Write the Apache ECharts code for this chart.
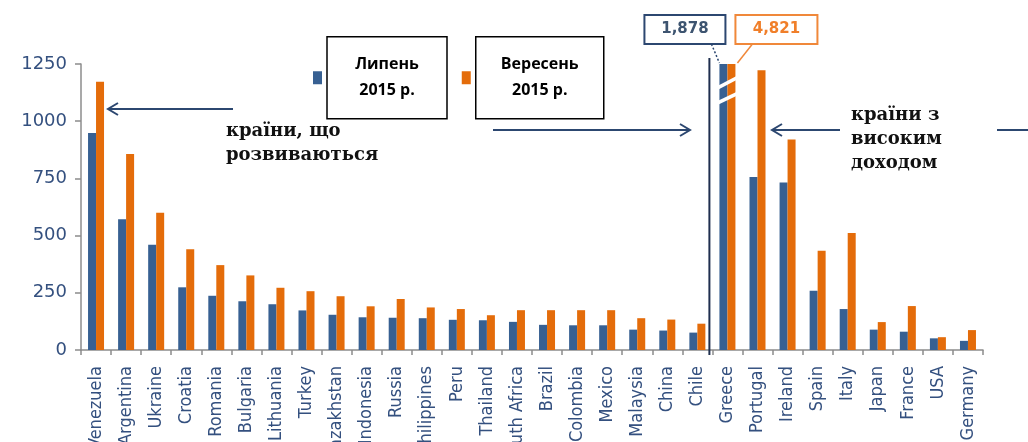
<!DOCTYPE html>
<html>
<head>
<meta charset="utf-8">
<script src="https://cdn.jsdelivr.net/npm/echarts@6/dist/echarts.min.js"></script>
<style>
  html, body { margin: 0; padding: 0; background: #fff; }
  #chart { width: 1028px; height: 442px; }
</style>
</head>
<body>
<div id="chart"></div>
<script>
const categories = [
  'Venezuela', 'Argentina', 'Ukraine', 'Croatia', 'Romania', 'Bulgaria', 'Lithuania',
  'Turkey', 'Kazakhstan', 'Indonesia', 'Russia', 'Philippines', 'Peru', 'Thailand',
  'South Africa', 'Brazil', 'Colombia', 'Mexico', 'Malaysia', 'China', 'Chile',
  'Greece', 'Portugal', 'Ireland', 'Spain', 'Italy', 'Japan', 'France', 'USA', 'Germany',
];
const july2015 = [
  948, 572, 460, 274, 237, 213, 200, 173, 154, 143, 141, 139, 132, 130,
  123, 110, 108, 108, 89, 85, 76,
  1878, 756, 732, 259, 179, 89, 80, 51, 40,
];
const sept2015 = [
  1172, 857, 600, 440, 371, 326, 272, 257, 235, 191, 223, 186, 179, 152,
  174, 174, 174, 174, 139, 133, 115,
  4821, 1223, 920, 434, 511, 122, 192, 56, 87,
];
const seriesNames = ['Липень\n2015 р.', 'Вересень\n2015 р.'];
const yTicks = { min: 0, max: 1250, interval: 250 };

const BLUE = '#376092';
const ORANGE = '#e46c0a';
const NAVY = '#2c4770';
const AXIS_GREY = '#8c8c8c';
const LABEL_BLUE = '#34507f';

const chart = echarts.init(document.getElementById('chart'));

const legendFont = { fontFamily: 'Open Sans', fontWeight: 'bold', fontSize: 16, color: '#000', lineHeight: 26, align: 'center' };

chart.setOption({
  animation: false,
  grid: { left: 81, right: 45, top: 64, bottom: 92, containLabel: false, outerBoundsMode: 'none' },
  legend: {
    left: 313,
    top: 36,
    padding: 0,
    itemWidth: 9,
    itemHeight: 13,
    itemGap: 14,
    icon: 'rect',
    selectedMode: false,
    data: seriesNames,
    formatter: (name) => name.split('\n').map((s) => `{${name === seriesNames[0] ? 'a' : 'b'}|${s}}`).join('\n'),
    textStyle: {
      ...legendFont,
      borderColor: '#000',
      borderWidth: 1.5,
      padding: [15, 0, 15, 0],
      rich: {
        a: { ...legendFont, width: 120 },
        b: { ...legendFont, width: 128 },
      },
    },
  },
  xAxis: {
    type: 'category',
    data: categories,
    axisLine: { lineStyle: { color: AXIS_GREY, width: 1.5 } },
    axisTick: { show: true, length: 5, lineStyle: { color: AXIS_GREY, width: 1.5 } },
    axisLabel: {
      interval: 0,
      rotate: 90,
      margin: 16,
      color: LABEL_BLUE,
      fontSize: 18,
      fontFamily: "'Liberation Sans Narrow', 'DejaVu Sans Condensed', sans-serif",
    },
  },
  yAxis: {
    type: 'value',
    min: yTicks.min,
    max: yTicks.max,
    interval: yTicks.interval,
    splitLine: { show: false },
    axisLine: { show: true, lineStyle: { color: AXIS_GREY, width: 1.5 } },
    axisTick: { show: true, length: 6, lineStyle: { color: AXIS_GREY, width: 1.5 } },
    axisLabel: {
      margin: 14,
      color: LABEL_BLUE,
      fontSize: 18,
      fontFamily: 'DejaVu Sans',
      formatter: (v) => String(v),
    },
  },
  series: [
    {
      name: seriesNames[0],
      type: 'bar',
      data: july2015,
      barWidth: 8,
      barGap: '0%',
      clip: true,
      itemStyle: { color: BLUE },
    },
    {
      name: seriesNames[1],
      type: 'bar',
      data: sept2015,
      barWidth: 8,
      barGap: '0%',
      clip: true,
      itemStyle: { color: ORANGE },
    },
  ],
});

// annotations: break marks on Greece, value boxes, divider and arrows
const gi = categories.indexOf('Greece');
const gx = chart.convertToPixel({ xAxisIndex: 0 }, categories[gi]);
const prevX = chart.convertToPixel({ xAxisIndex: 0 }, categories[gi - 1]);
const topY = chart.convertToPixel({ yAxisIndex: 0 }, yTicks.max);
const zeroY = chart.convertToPixel({ yAxisIndex: 0 }, 0);
const divX = (gx + prevX) / 2 - 3;
const fmt = (v) => v.toLocaleString('en-US');

function arrow(x1, y, x2) {
  const d = x2 > x1 ? -1 : 1;
  return [
    { type: 'line', shape: { x1, y1: y, x2, y2: y }, style: { stroke: NAVY, lineWidth: 2 } },
    {
      type: 'polyline',
      shape: { points: [[x2 + d * 10, y - 6], [x2, y], [x2 + d * 10, y + 6]] },
      style: { stroke: NAVY, lineWidth: 2, fill: null },
    },
  ];
}

const boldSerif = {
  fontFamily: 'DejaVu Serif',
  fontWeight: 'bold',
  fontSize: 18,
  lineHeight: 24,
  fill: '#111',
};

chart.setOption({
  graphic: [
    // break stripes across the Greece bars
    {
      type: 'polygon',
      shape: { points: [[gx - 10, topY + 22], [gx + 11, topY + 11], [gx + 11, topY + 15], [gx - 10, topY + 26]] },
      style: { fill: '#fff' },
      z: 100,
    },
    {
      type: 'polygon',
      shape: { points: [[gx - 10, topY + 37], [gx + 11, topY + 27], [gx + 11, topY + 31], [gx - 10, topY + 41]] },
      style: { fill: '#fff' },
      z: 100,
    },
    // divider between groups
    {
      type: 'line',
      shape: { x1: divX, y1: topY - 6, x2: divX, y2: zeroY + 5 },
      style: { stroke: '#1f2f4f', lineWidth: 2 },
      z: 100,
    },
    // real values of the Greece bars
    {
      type: 'rect',
      shape: { x: gx - 83, y: 15, width: 81, height: 29 },
      style: { fill: '#fff', stroke: NAVY, lineWidth: 2 },
      z: 100,
    },
    {
      type: 'text',
      x: gx - 42.5, y: 29.5,
      style: {
        text: fmt(july2015[gi]), fill: '#3d5470', fontFamily: 'DejaVu Sans', fontWeight: 'bold',
        fontSize: 15, align: 'center', verticalAlign: 'middle',
      },
      z: 101,
    },
    {
      type: 'line',
      shape: { x1: gx - 16, y1: 44, x2: gx - 8, y2: topY - 1 },
      style: { stroke: NAVY, lineWidth: 1.5, lineDash: [2, 2] },
      z: 100,
    },
    {
      type: 'rect',
      shape: { x: gx + 8, y: 15, width: 82, height: 29 },
      style: { fill: '#fff', stroke: '#f0883a', lineWidth: 2 },
      z: 100,
    },
    {
      type: 'text',
      x: gx + 49, y: 29.5,
      style: {
        text: fmt(sept2015[gi]), fill: '#f07f2a', fontFamily: 'DejaVu Sans', fontWeight: 'bold',
        fontSize: 15, align: 'center', verticalAlign: 'middle',
      },
      z: 101,
    },
    {
      type: 'line',
      shape: { x1: gx + 25, y1: 44, x2: gx + 10, y2: topY - 1 },
      style: { stroke: '#f0883a', lineWidth: 1.5 },
      z: 100,
    },
    // group arrows and captions
    ...arrow(233, 109, 108),
    ...arrow(493, 130, 690),
    ...arrow(840, 130, 772),
    { type: 'line', shape: { x1: 997, y1: 130, x2: 1028, y2: 130 }, style: { stroke: NAVY, lineWidth: 2 } },
    {
      type: 'text',
      x: 226, y: 119,
      style: { ...boldSerif, text: 'країни, що\nрозвиваються' },
    },
    {
      type: 'text',
      x: 851, y: 103,
      style: { ...boldSerif, text: 'країни з\nвисоким\nдоходом' },
    },
  ],
});
</script>
</body>
</html>
